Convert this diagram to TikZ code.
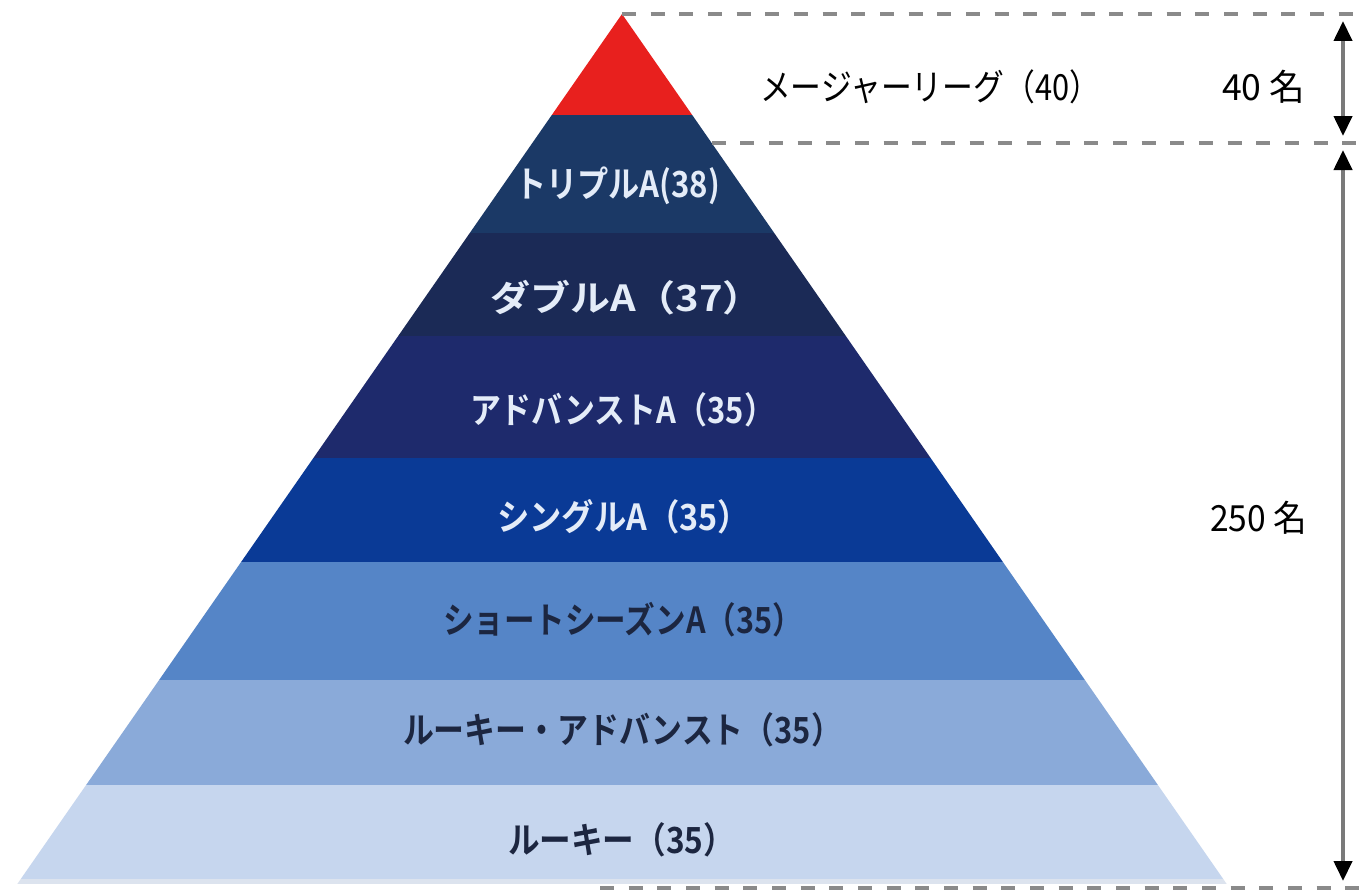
\documentclass[tikz,border=0pt]{standalone}
\usepackage{fontspec}
\usepackage{graphicx}
\newfontfamily\jpfont{Noto Sans CJK JP}[BoldFont={Noto Sans CJK JP Bold}]
\usetikzlibrary{arrows.meta}
\definecolor{cRed}{HTML}{E8201E}
\definecolor{cTA}{HTML}{1B3966}
\definecolor{cDA}{HTML}{1B2A56}
\definecolor{cAA}{HTML}{1E2A6C}
\definecolor{cSA}{HTML}{0A3A96}
\definecolor{cSS}{HTML}{5585C7}
\definecolor{cRA}{HTML}{8AAAD9}
\definecolor{cRK}{HTML}{C6D6EE}
\definecolor{cBase}{HTML}{DCE3EE}
\definecolor{cLight}{HTML}{E4ECF8}
\definecolor{cDark}{HTML}{1C2640}
\definecolor{cGrayLine}{HTML}{7A7A7A}
\definecolor{cDash}{HTML}{8A8A8A}
\newcommand{\fitw}[2]{\resizebox{#1}{\height}{#2}}
\begin{document}
\begin{tikzpicture}[x=0.75pt,y=-0.75pt,
  lbl/.style={inner sep=0pt, anchor=center, font=\jpfont\bfseries\fontsize{27pt}{32pt}\selectfont},
  lightlbl/.style={lbl, text=cLight},
  darklbl/.style={lbl, text=cDark},
  sidelbl/.style={inner sep=0pt, anchor=center, text=black, font=\jpfont\fontsize{27pt}{32pt}\selectfont},
  dashline/.style={draw=cDash, line width=3pt, dash pattern=on 10.5pt off 11pt},
  dimarrow/.style={draw=cGrayLine, line width=3pt,
    {Triangle[width=13.5pt,length=15pt,color=black,fill=black]}-{Triangle[width=13.5pt,length=15pt,color=black,fill=black]}}
]
\useasboundingbox (0,0) rectangle (1362,892);
\fill[white] (0,0) rectangle (1362,892);
\coordinate (apex) at (622,14);
\coordinate (bl) at (17.3,884);
\coordinate (br) at (1226.7,884);
\begin{scope}
  \clip (apex) -- (br) -- (bl) -- cycle;
  \fill[cRed] (0,0) rectangle (1362,115);
  \fill[cTA] (0,115) rectangle (1362,233);
  \fill[cDA] (0,233) rectangle (1362,336);
  \fill[cAA] (0,336) rectangle (1362,458);
  \fill[cSA] (0,458) rectangle (1362,562);
  \fill[cSS] (0,562) rectangle (1362,680);
  \fill[cRA] (0,680) rectangle (1362,785);
  \fill[cRK] (0,785) rectangle (1362,879);
  \fill[cBase] (0,879) rectangle (1362,884);
\end{scope}
% labels in the pyramid
\node[lightlbl] (ta) at (617.5,186) {\fitw{153.75pt}{トリプルA(38)}};
\node[lightlbl] (da) at (626.5,298) {\fitw{204.75pt}{ダブルA（37）}};
\node[lightlbl] (aa) at (622.5,410) {\fitw{228.75pt}{アドバンストA（35）}};
\node[lightlbl] (sa) at (623.5,517) {\fitw{189.75pt}{シングルA（35）}};
\node[darklbl] (ss) at (623,620) {\fitw{270pt}{ショートシーズンA（35）}};
\node[darklbl] (ra) at (622.5,730) {\fitw{329.25pt}{ルーキー・アドバンスト（35）}};
\node[darklbl] (rk) at (621.5,840) {\fitw{170.25pt}{ルーキー（35）}};
% right side labels
\node[sidelbl] (ml) at (930,87) {\fitw{255pt}{メージャーリーグ（40）}};
\node[sidelbl] (n40) at (1263.5,87) {\fitw{62.25pt}{40 名}};
\node[sidelbl] (n250) at (1258.5,518) {\fitw{72.75pt}{250 名}};
% dashed guide lines
\coordinate (d1e) at (1362,14);
\coordinate (d2s) at (711.7,143);
\coordinate (d2e) at (1362,143);
\coordinate (d3s) at (600,888);
\coordinate (d3e) at (1362,888);
\draw[dashline] (apex) -- (d1e);
\draw[dashline] (d2s) -- (d2e);
\draw[dashline] (d3s) -- (d3e);
% dimension arrows
\coordinate (a1t) at (1343,21);
\coordinate (a1b) at (1343,136);
\coordinate (a2t) at (1343,150);
\coordinate (a2b) at (1343,881);
\draw[dimarrow] (a1t) -- (a1b);
\draw[dimarrow] (a2t) -- (a2b);
\end{tikzpicture}
\end{document}
